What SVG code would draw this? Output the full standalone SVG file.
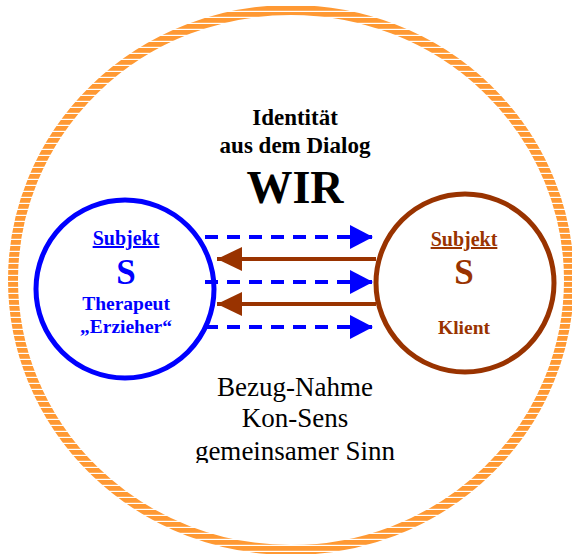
<svg xmlns="http://www.w3.org/2000/svg" width="572" height="554" viewBox="0 0 572 554">
<style>
.t{font-family:"Liberation Serif","Times New Roman",serif;text-anchor:middle}
.b{font-weight:bold}
.blue{fill:#0000FF}
.brown{fill:#993300}
.dash{stroke:#0000FF;stroke-width:4;stroke-dasharray:13 9;fill:none}
.solid{stroke:#993300;stroke-width:4;fill:none}
</style>
<defs>
<pattern id="stripes" patternUnits="userSpaceOnUse" width="20" height="6">
<rect width="20" height="6" fill="#FF9933"/>
<rect y="4.8" width="20" height="1.2" fill="#FFFFFF"/>
</pattern>
<marker id="ab" markerUnits="userSpaceOnUse" markerWidth="24" markerHeight="24" refX="23" refY="12" orient="auto">
<path d="M0,0 L23,12 L0,24 Z" fill="#0000FF"/>
</marker>
<marker id="ar" markerUnits="userSpaceOnUse" markerWidth="26" markerHeight="24" refX="25" refY="12" orient="auto">
<path d="M0,0 L25,12 L0,24 Z" fill="#993300"/>
</marker>
<clipPath id="clipText"><rect x="0" y="0" width="572" height="463"/></clipPath>
</defs>
<rect width="572" height="554" fill="#FFFFFF"/>
<g id="outer">
<ellipse cx="291" cy="280" rx="278" ry="270" fill="none" stroke="url(#stripes)" stroke-width="10"/>
</g>
<g id="title">
<text class="t b" x="295" y="125" font-size="23">Identität</text>
<text class="t b" x="295" y="153" font-size="23">aus dem Dialog</text>
<text class="t b" x="295" y="203" font-size="46">WIR</text>
</g>
<g id="connectors">
<line class="dash" x1="205" y1="237" x2="373" y2="237" marker-end="url(#ab)"/>
<line class="dash" x1="205" y1="282" x2="373" y2="282" marker-end="url(#ab)"/>
<line class="dash" x1="205" y1="327" x2="373" y2="327" marker-end="url(#ab)"/>
<line class="solid" x1="376" y1="259" x2="217" y2="259" marker-end="url(#ar)"/>
<line class="solid" x1="376" y1="304" x2="217" y2="304" marker-end="url(#ar)"/>
</g>
<g id="therapeut">
<circle cx="125" cy="289" r="89" fill="none" stroke="#0000FF" stroke-width="5"/>
<text class="t b blue" x="126" y="245" font-size="20" text-decoration="underline">Subjekt</text>
<text class="t b blue" x="126" y="284" font-size="35">S</text>
<text class="t b blue" x="126" y="310" font-size="19.5">Therapeut</text>
<text class="t b blue" x="126" y="333" font-size="19.5">„Erzieher“</text>
</g>
<g id="klient">
<circle cx="465" cy="283" r="89" fill="none" stroke="#993300" stroke-width="5"/>
<text class="t b brown" x="464" y="246" font-size="20" text-decoration="underline">Subjekt</text>
<text class="t b brown" x="464" y="284" font-size="35">S</text>
<text class="t b brown" x="464" y="334" font-size="19.5">Klient</text>
</g>
<g id="caption" clip-path="url(#clipText)">
<text class="t" x="295" y="396" font-size="27">Bezug-Nahme</text>
<text class="t" x="295" y="427" font-size="27">Kon-Sens</text>
<text class="t" x="295" y="460" font-size="27">gemeinsamer Sinn</text>
</g>
</svg>
